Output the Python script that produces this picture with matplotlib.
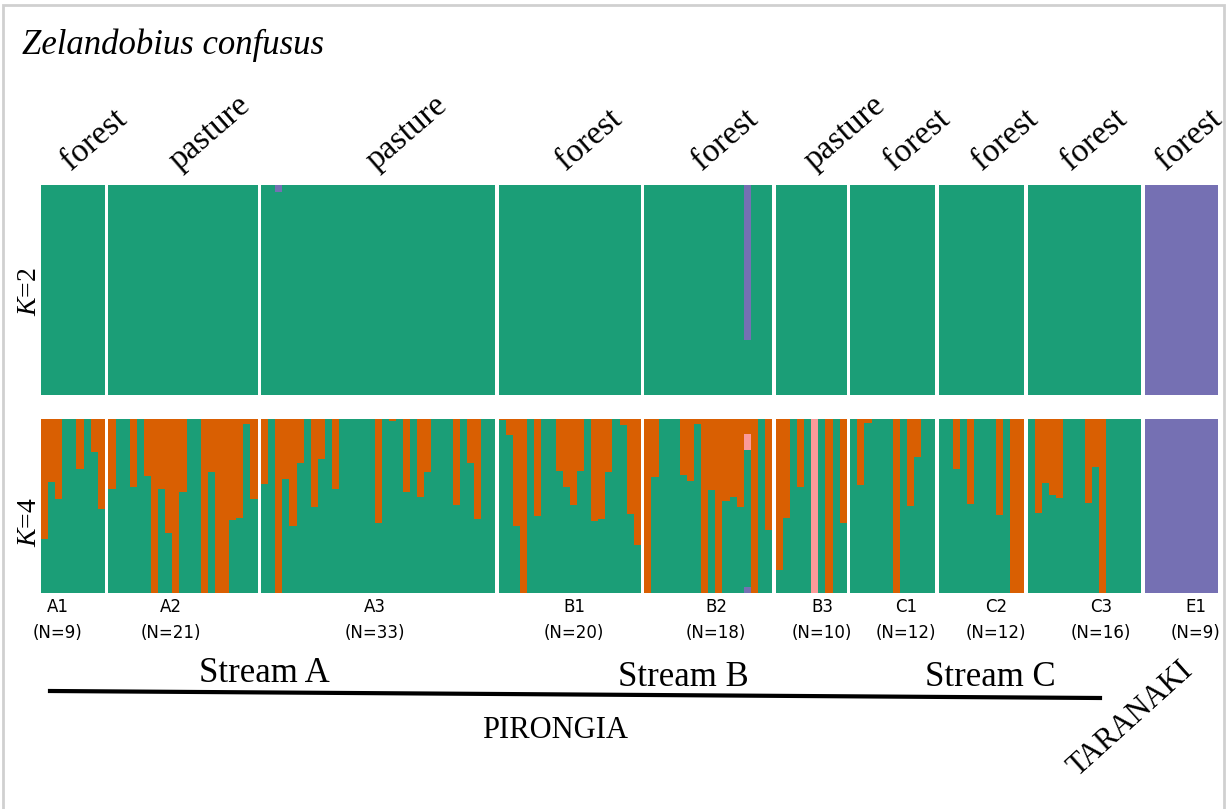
import numpy as np
import matplotlib.pyplot as plt
from matplotlib.patches import Rectangle
from matplotlib.lines import Line2D
from matplotlib import transforms

plt.rcParams['mathtext.fontset'] = 'custom'
plt.rcParams['mathtext.rm'] = 'Liberation Serif'
plt.rcParams['mathtext.it'] = 'Liberation Serif:italic'

pops = ['A1', 'A2', 'A3', 'B1', 'B2', 'B3', 'C1', 'C2', 'C3', 'E1']
sizes = [9, 21, 33, 20, 18, 10, 12, 12, 16, 9]
habitat = ['forest', 'pasture', 'pasture', 'forest', 'forest', 'pasture',
           'forest', 'forest', 'forest', 'forest']

# K=4 : orange cluster share per individual
orange_a1 = [0.69, 0.36, 0.46, 0.0, 0.0, 0.285, 0.0, 0.19, 0.52]
orange_a2 = [0.40, 0.0, 0.0, 0.39, 0.0, 0.33, 1.0, 0.40, 0.655, 1.0, 0.42,
             0.0, 0.0, 1.0, 0.305, 1.0, 1.0, 0.58, 0.57, 0.027, 0.46]
orange_a3 = [0.375, 0.0, 1.0, 0.343, 0.615, 0.25, 0.0, 0.506, 0.23, 0.0, 0.40,
             0.0, 0.0, 0.0, 0.0, 0.0, 0.60, 0.0, 0.011, 0.0, 0.42, 0.0, 0.45,
             0.305, 0.0, 0.0, 0.0, 0.496, 0.0, 0.25, 0.575, 0.0, 0.0]
orange_b1 = [0.005, 0.094, 0.615, 1.0, 0.0, 0.56, 0.0, 0.0, 0.297, 0.39,
             0.496, 0.30, 0.0, 0.588, 0.573, 0.305, 0.0, 0.035, 0.546, 0.724]
orange_b2 = [1.0, 0.333, 0.0, 0.0, 0.0, 0.32, 0.358, 0.027, 1.0, 0.41, 1.0,
             0.47, 0.45, 0.506, 0.088, 1.0, 0.0, 0.64]
orange_b3 = [0.87, 0.57, 0.0, 0.39, 0.0, 0.0, 0.0, 1.0, 0.0, 0.60]
orange_c1 = [0.0, 0.38, 0.023, 0.0, 0.0, 0.0, 1.0, 0.0, 0.50, 0.22, 0.0, 0.0]
orange_c2 = [0.0, 0.0, 0.285, 0.0, 0.49, 0.0, 0.0, 0.0, 0.55, 0.0, 1.0, 1.0]
orange_c3 = [0.0, 0.54, 0.37, 0.437, 0.454, 0.0, 0.0, 0.0, 0.483, 0.274, 1.0,
             0.0, 0.0, 0.0, 0.0, 0.0]
orange_e1 = [0.0] * 9

# K=4 : pink and purple clusters (only where present)
pink_b2 = [0, 0, 0, 0, 0, 0, 0, 0, 0, 0, 0, 0, 0, 0, 0.088, 0, 0, 0]
pink_b3 = [0, 0, 0, 0, 0, 1.0, 0, 0, 0, 0]
purple4_b2 = [0, 0, 0, 0, 0, 0, 0, 0, 0, 0, 0, 0, 0, 0, 0.035, 0, 0, 0]
purple4_e1 = [1.0] * 9

# K=2 : purple cluster share
purple2_a3 = [0, 0, 0.035] + [0] * 30
purple2_b2 = [0, 0, 0, 0, 0, 0, 0, 0, 0, 0, 0, 0, 0, 0, 0.74, 0, 0, 0]
purple2_e1 = [1.0] * 9

green_c = '#1b9e77'
orange_c = '#d95f02'
purple_c = '#7570b3'
pink_c = '#fb9a99'

orange = np.array(orange_a1 + orange_a2 + orange_a3 + orange_b1 + orange_b2 +
                  orange_b3 + orange_c1 + orange_c2 + orange_c3 + orange_e1)
n = len(orange)
off = np.cumsum([0] + sizes)
pink = np.zeros(n)
pink[off[4]:off[5]] = pink_b2
pink[off[5]:off[6]] = pink_b3
purple4 = np.zeros(n)
purple4[off[4]:off[5]] = purple4_b2
purple4[off[9]:off[10]] = purple4_e1
green4 = 1 - orange - pink - purple4

purple2 = np.zeros(n)
purple2[off[2]:off[3]] = purple2_a3
purple2[off[4]:off[5]] = purple2_b2
purple2[off[9]:off[10]] = purple2_e1
green2 = 1 - purple2

# bar widths (E1 individuals are drawn wider in the original)
grp = np.repeat(np.arange(len(sizes)), sizes)
wid = np.where(grp == 9, 1.145, 1.0)
gap = 0.5
left = np.concatenate([[0], np.cumsum(wid)[:-1]]) + grp * gap
x = left + wid / 2
starts = np.array([left[o] for o in off[:-1]])
ends = np.array([left[o - 1] + wid[o - 1] for o in off[1:]])

W, H = 1227, 809
fig = plt.figure(figsize=(W / 100, H / 100), dpi=100)

def fy(py):
    return (H - py) / H

ax2 = fig.add_axes([41 / W, fy(395), (1218 - 41) / W, (395 - 185) / H])
ax4 = fig.add_axes([41 / W, fy(593), (1218 - 41) / W, (593 - 419) / H])

bk = dict(width=wid, linewidth=0, antialiased=False)
ax2.bar(x, green2, color=green_c, **bk)
ax2.bar(x, purple2, bottom=green2, color=purple_c, **bk)

ax4.bar(x, purple4, color=purple_c, **bk)
ax4.bar(x, green4, bottom=purple4, color=green_c, **bk)
ax4.bar(x, pink, bottom=purple4 + green4, color=pink_c, **bk)
ax4.bar(x, orange, bottom=purple4 + green4 + pink, color=orange_c, **bk)

for ax, lab, ly in [(ax2, '$K$=2', 292), (ax4, '$K$=4', 522)]:
    ax.set_xlim(starts[0], ends[-1])
    ax.set_ylim(0, 1)
    ax.axis('off')
    fig.text(30 / W, fy(ly), lab, rotation=90, ha='center', va='center',
             fontsize=20, family='Liberation Serif')

# habitat labels (pixel anchors as placed in the original figure)
hab_x = [71, 179, 376, 566, 702, 814, 894, 982, 1071, 1166]
for hx, h in zip(hab_x, habitat):
    fig.text(hx / W, fy(171), h, rotation=41, rotation_mode='anchor',
             ha='left', va='baseline', fontsize=24, family='Liberation Serif')

# population labels
pop_x = [58, 171, 375, 574, 716, 822, 906, 996, 1101, 1196]
for px, p, s in zip(pop_x, pops, sizes):
    fig.text(px / W, fy(607), p, ha='center', va='center',
             fontsize=12, family='DejaVu Sans')
    fig.text(px / W, fy(633), '(N=%d)' % s, ha='center', va='center',
             fontsize=12, family='DejaVu Sans')

for name, px, py in [('Stream A', 264, 674), ('Stream B', 683, 678),
                     ('Stream C', 990, 678)]:
    fig.text(px / W, fy(py), name, ha='center', va='center', fontsize=25,
             family='Liberation Serif')

fig.add_artist(Line2D([50 / W, 1100 / W], [fy(691), fy(698)], color='black',
                      lw=3, transform=fig.transFigure))
fig.text(555 / W, fy(731), 'PIRONGIA', ha='center', va='center', fontsize=22,
         family='Liberation Serif')
fig.text(1131 / W, fy(719), 'TARANAKI', ha='center', va='center', fontsize=22,
         rotation=42, rotation_mode='anchor', family='Liberation Serif')

fig.text(22 / W, fy(45), 'Zelandobius confusus', ha='left', va='center',
         fontsize=25, style='italic', family='Liberation Serif')

fig.add_artist(Rectangle((3 / W, -0.01), (1224 - 3) / W, fy(5) + 0.01, fill=False,
                         edgecolor='#d0d0d0', lw=2, transform=fig.transFigure))

fig.savefig('out.png', dpi=100)
